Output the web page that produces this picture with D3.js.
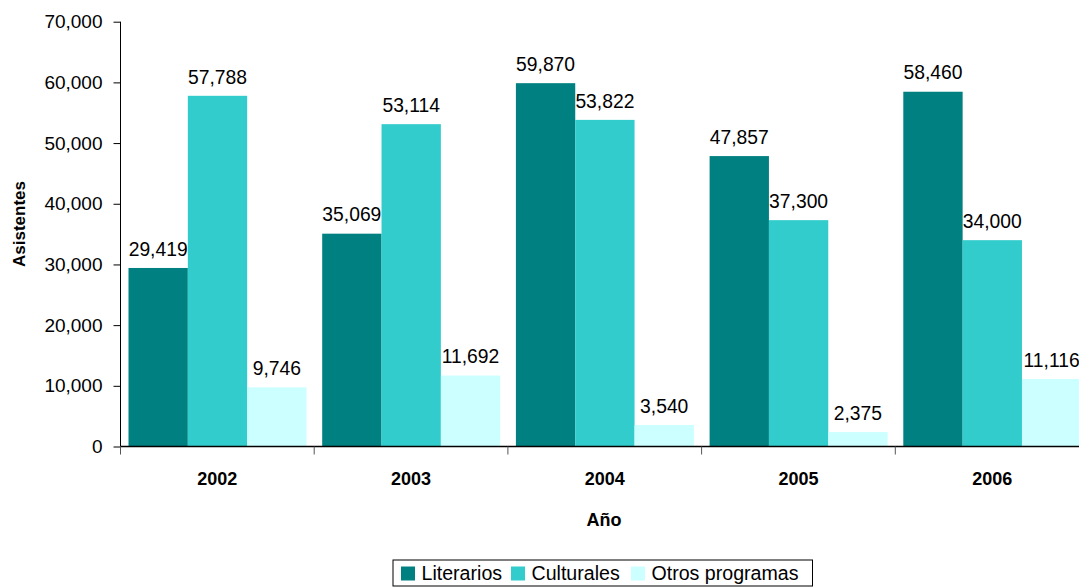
<!DOCTYPE html>
<html><head><meta charset="utf-8">
<script src="https://cdn.jsdelivr.net/npm/d3@7"></script>
<style>
html,body{margin:0;padding:0;background:#fff;}
svg{display:block;font-family:"Liberation Sans",Arial,sans-serif;}
</style></head>
<body>
<svg id="chart" width="1079" height="587"></svg>
<script>
const years = ["2002","2003","2004","2005","2006"];
const seriesNames = ["Literarios","Culturales","Otros programas"];
const literarios = [29419, 35069, 59870, 47857, 58460];
const culturales = [57788, 53114, 53822, 37300, 34000];
const otros = [9746, 11692, 3540, 2375, 11116];
const yTicks = [0,10000,20000,30000,40000,50000,60000,70000];
const colors = ["#008080","#33CCCC","#CCFFFF"];

const seriesValues = [literarios, culturales, otros];
const svg = d3.select("#chart");
const fmt = d3.format(",");

const axisX = 120.5, y0 = 446.5, yTop = 21.7, step = 193.7;
const y = d3.scaleLinear().domain([0,70000]).range([y0, yTop]);
const x0 = d3.scaleBand().domain(years).range([axisX, axisX + step*years.length]).padding(0);
const x1 = d3.scaleBand().domain(seriesNames).range([8, 186]).padding(0);

// bars
years.forEach((yr, i) => {
  const g = svg.append("g").attr("transform", `translate(${x0(yr)},0)`);
  seriesNames.forEach((s, j) => {
    const v = seriesValues[j][i];
    g.append("rect")
      .attr("x", x1(s)).attr("width", x1.bandwidth())
      .attr("y", y(v)).attr("height", y(0) - y(v))
      .attr("fill", colors[j]);
    g.append("text")
      .attr("x", x1(s) + x1.bandwidth()/2)
      .attr("y", y(v) - 12.3)
      .attr("text-anchor", "middle")
      .attr("font-size", "19.3px").attr("fill", "#000")
      .text(fmt(v));
  });
});

// y axis
const yAxis = d3.axisLeft(y).tickValues(yTicks).tickFormat(fmt).tickSize(7).tickPadding(11);
const ya = svg.append("g").attr("transform", `translate(${axisX},0)`).call(yAxis);
ya.selectAll(".tick line").attr("stroke", "#000");
ya.selectAll(".tick text").attr("font-size", "19px").attr("fill", "#000").attr("font-family", "Liberation Sans, Arial, sans-serif");
ya.select(".domain").attr("stroke", "#000").attr("d", `M0,${y0}V${yTop}`);

// x axis
const bounds = years.map(yr => x0(yr)).concat([x0.range()[1]]);
const xa = svg.append("g");
xa.append("line").attr("x1", axisX).attr("x2", 1079).attr("y1", y0).attr("y2", y0).attr("stroke", "#000").attr("stroke-width", 1.5);
xa.selectAll("line.tk").data(bounds).enter().append("line").attr("class","tk")
  .attr("x1", d => d).attr("x2", d => d).attr("y1", y0).attr("y2", y0 + 8)
  .attr("stroke", "#555");
xa.selectAll("text").data(years).enter().append("text")
  .attr("x", d => x0(d) + x0.bandwidth()/2).attr("y", 485)
  .attr("text-anchor", "middle").attr("font-size", "18px").attr("font-weight", "bold")
  .text(d => d);

// axis titles
svg.append("text").attr("x", 604).attr("y", 526).attr("text-anchor","middle")
  .attr("font-size","18px").attr("font-weight","bold").text("Año");
svg.append("text").attr("transform","translate(25,224) rotate(-90)").attr("text-anchor","middle")
  .attr("font-size","17px").attr("font-weight","bold").text("Asistentes");

// legend
const lg = svg.append("g");
lg.append("rect").attr("x", 393).attr("y", 560).attr("width", 419.5).attr("height", 26)
  .attr("fill","#fff").attr("stroke","#000").attr("stroke-width",1);
const legX = [401, 511, 631];
seriesNames.forEach((s, j) => {
  lg.append("rect").attr("x", legX[j]).attr("y", 566.5).attr("width", 14).attr("height", 14)
    .attr("fill", colors[j]);
  lg.append("text").attr("x", legX[j] + 20.5).attr("y", 580).attr("font-size","19.6px").text(s);
});
</script>
</body></html>
